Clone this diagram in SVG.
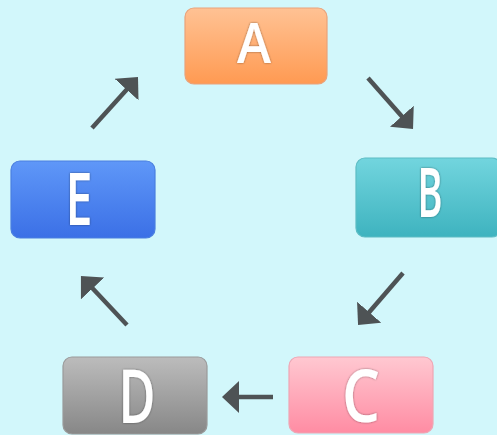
<svg xmlns="http://www.w3.org/2000/svg" width="497" height="435" viewBox="0 0 497 435">
<defs>
<linearGradient id="gA" x1="0" y1="0" x2="0" y2="1"><stop offset="0" stop-color="#ffc294"/><stop offset="1" stop-color="#ff9a52"/></linearGradient>
<linearGradient id="gB" x1="0" y1="0" x2="0" y2="1"><stop offset="0" stop-color="#72d5de"/><stop offset="1" stop-color="#3eb3bf"/></linearGradient>
<linearGradient id="gC" x1="0" y1="0" x2="0" y2="1"><stop offset="0" stop-color="#ffc8d1"/><stop offset="1" stop-color="#ff8ca3"/></linearGradient>
<linearGradient id="gD" x1="0" y1="0" x2="0" y2="1"><stop offset="0" stop-color="#bcbcbc"/><stop offset="1" stop-color="#878787"/></linearGradient>
<linearGradient id="gE" x1="0" y1="0" x2="0" y2="1"><stop offset="0" stop-color="#5f97f8"/><stop offset="1" stop-color="#3b70e6"/></linearGradient>
<filter id="ts" x="-20%" y="-20%" width="140%" height="140%"><feDropShadow dx="0" dy="0" stdDeviation="1" flood-color="#000" flood-opacity="0.45"/></filter>
<marker id="ah" markerUnits="userSpaceOnUse" markerWidth="18" markerHeight="32" refX="7" refY="16" orient="auto" viewBox="0 0 18 32"><path d="M0,0 L17,16 L0,32 Z" fill="#4e5355"/></marker>
<style>
.box{stroke-width:1.2}
.lbl{font-family:"Open Sans","DejaVu Sans",sans-serif;font-weight:600;fill:#fff;text-anchor:middle;filter:url(#ts)}
.arr{stroke:#4e5355;stroke-width:4.5;fill:none;marker-end:url(#ah)}
</style>
</defs>
<rect x="0" y="0" width="497" height="435" fill="#d2f7fb"/>
<g id="connectors">
<line class="arr" x1="368" y1="78" x2="406.4" y2="121.5"/>
<line class="arr" x1="403" y1="273" x2="364.6" y2="317.5"/>
<line class="arr" x1="273" y1="397" x2="232" y2="397"/>
<line class="arr" x1="127" y1="325" x2="87.8" y2="283.3"/>
<line class="arr" x1="92" y1="128" x2="131.3" y2="84.4"/>
</g>
<g id="node-A">
<rect class="box" x="185" y="8" width="142" height="76" rx="9" fill="url(#gA)" stroke="#eaa27a"/>
<text class="lbl" x="254" y="63" font-size="56" textLength="34" lengthAdjust="spacingAndGlyphs">A</text>
</g>
<g id="node-B">
<rect class="box" x="356" y="158" width="145" height="79" rx="9" fill="url(#gB)" stroke="#5cbcc4"/>
<text class="lbl" x="430" y="217" font-size="68" textLength="25" lengthAdjust="spacingAndGlyphs">B</text>
</g>
<g id="node-C">
<rect class="box" x="289" y="357" width="144" height="76" rx="9" fill="url(#gC)" stroke="#eea6b4"/>
<text class="lbl" x="361" y="422" font-size="73" textLength="38" lengthAdjust="spacingAndGlyphs">C</text>
</g>
<g id="node-D">
<rect class="box" x="63" y="357" width="144" height="77" rx="9" fill="url(#gD)" stroke="#9a9a9a"/>
<text class="lbl" x="137" y="423" font-size="74" textLength="37" lengthAdjust="spacingAndGlyphs">D</text>
</g>
<g id="node-E">
<rect class="box" x="11" y="161" width="144" height="77" rx="9" fill="url(#gE)" stroke="#4a7fe0"/>
<text class="lbl" x="79" y="225" font-size="73" textLength="27" lengthAdjust="spacingAndGlyphs">E</text>
</g>
</svg>
